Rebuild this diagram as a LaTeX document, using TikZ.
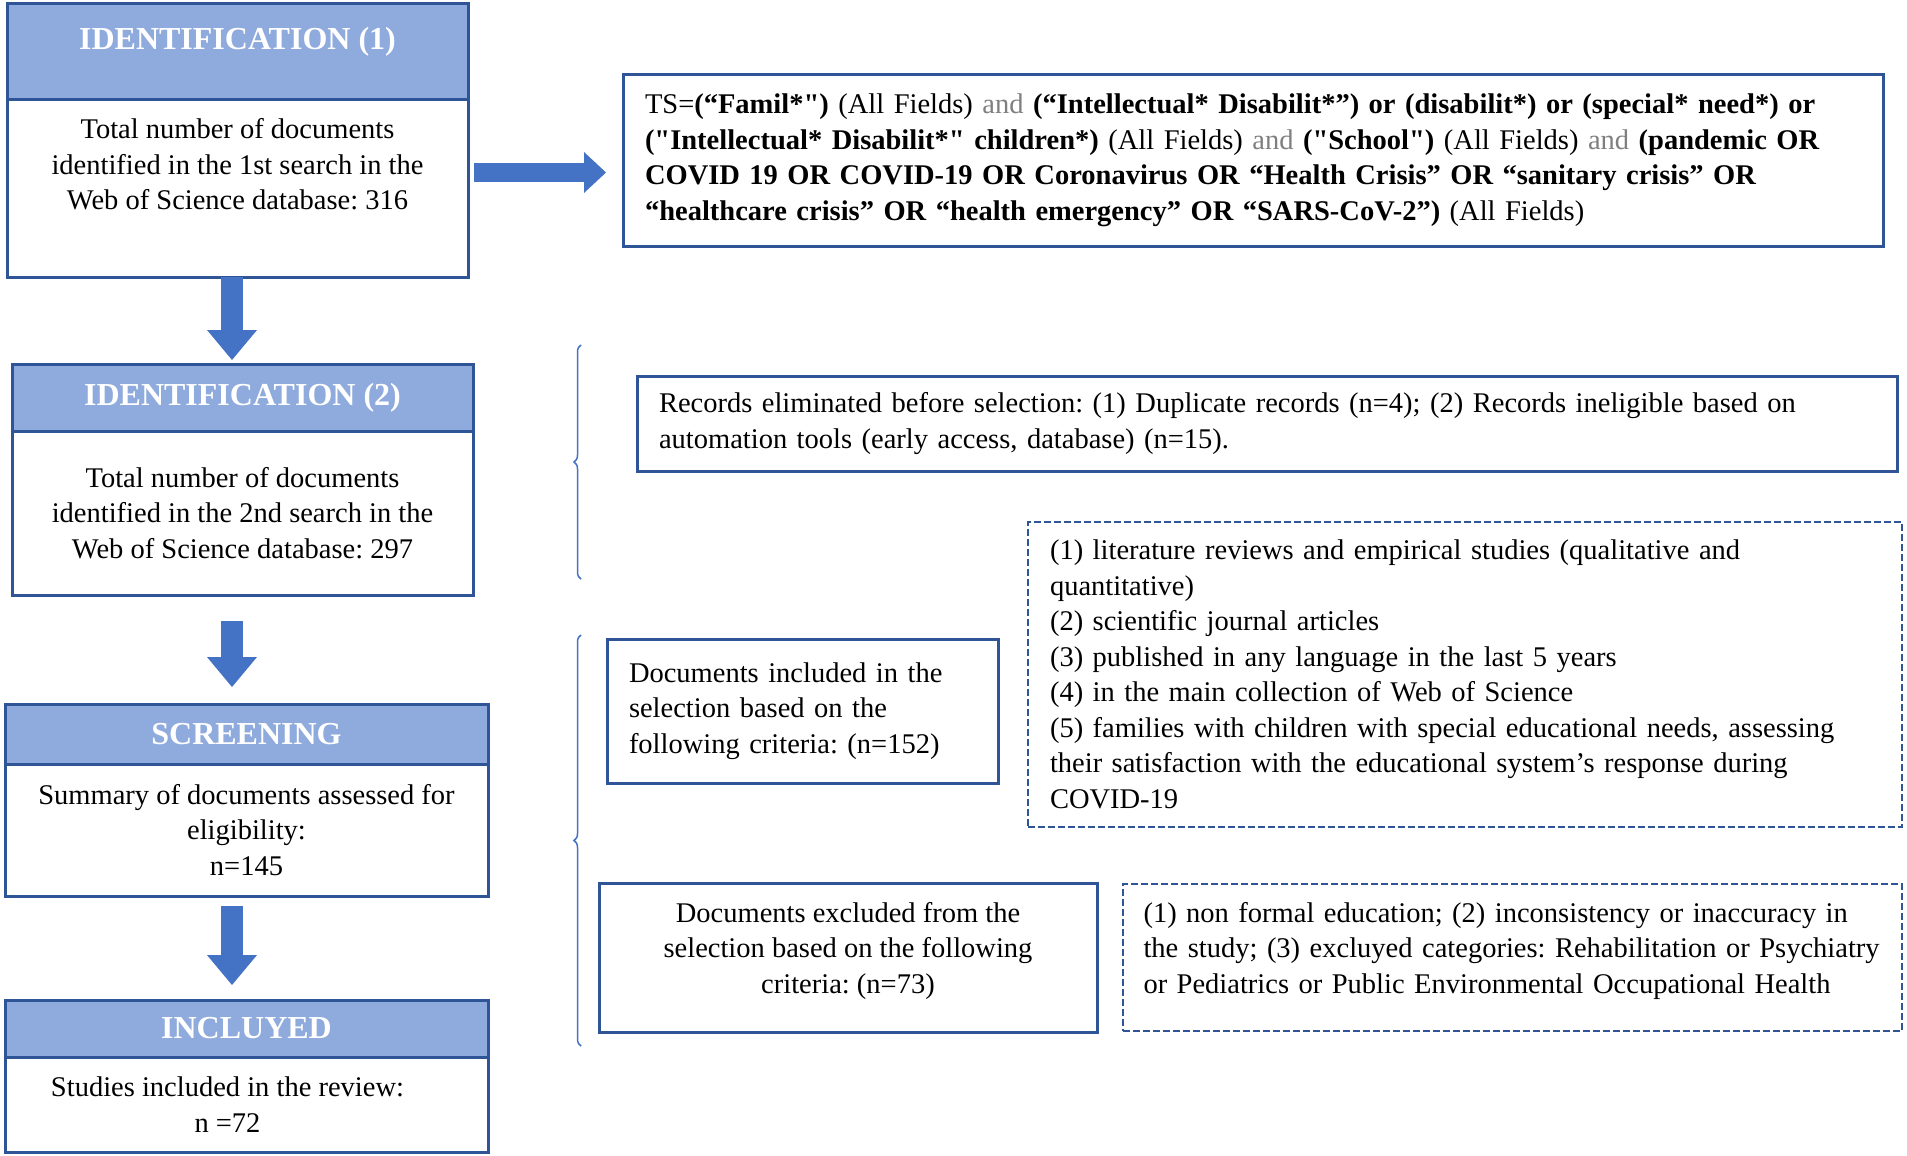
\documentclass[tikz,border=0pt]{standalone}
\usepackage{fontspec}
\setmainfont{Liberation Serif}[Ligatures=TeXOff]
\usepackage{xcolor}
\usetikzlibrary{arrows.meta,decorations.pathreplacing}

\definecolor{boxblue}{HTML}{2F5597}
\definecolor{headblue}{HTML}{8FAADC}
\definecolor{arrowblue}{HTML}{4472C4}
\definecolor{andgray}{HTML}{7F7F7F}

\newcommand{\boxfont}{\fontsize{28.5}{35.5}\selectfont\frenchspacing
  \hyphenpenalty=10000\relax\exhyphenpenalty=10000\relax}

\begin{document}
\begin{tikzpicture}[x=1pt,y=-1pt,
  every node/.style={font=\boxfont, outer sep=0pt},
  head/.style={draw=boxblue, line width=3pt, fill=headblue, text=white,
    font=\fontsize{32}{37}\selectfont\bfseries, align=center, inner sep=0pt},
  body/.style={draw=boxblue, line width=3pt, fill=white, align=center, inner sep=0pt},
  sidebox/.style={draw=boxblue, line width=3pt, align=left, inner xsep=22pt, inner ysep=0pt},
  dashbox/.style={sidebox, line width=2.5pt, dash pattern=on 7pt off 3pt},
  bigarrow/.style={arrowblue, line width=22pt, -{Triangle[length=30pt,width=50pt,line width=0pt]}},
  bracket/.style={arrowblue, line width=1.5pt, decorate, decoration={brace, amplitude=7pt}}]
  \useasboundingbox (0,0) rectangle (1907,1156);

  % left column: the four stages
  \node[head, minimum width=461pt, minimum height=95pt] (id1h) at (237.5,51.5) {IDENTIFICATION (1)\\[-10pt]\mbox{}};
  \node[body, minimum width=461pt, minimum height=178pt] (id1b) at (237.5,188)
    {Total number of documents\\identified in the 1st search in the\\Web of Science database: 316\\[12pt]\mbox{}};
  \node[head, minimum width=461pt, minimum height=67pt] (id2h) at (242.5,397.5) {IDENTIFICATION (2)};
  \node[body, minimum width=461pt, minimum height=164pt] (id2b) at (242.5,513)
    {Total number of documents\\identified in the 2nd search in the\\Web of Science database: 297};
  \node[head, minimum width=483pt, minimum height=60pt] (scrh) at (246.5,734) {SCREENING};
  \node[body, minimum width=483pt, minimum height=132pt] (scrb) at (246.5,830)
    {Summary of documents assessed for\\eligibility:\\n=145};
  \node[head, minimum width=483pt, minimum height=57pt] (inch) at (246.5,1028.5) {INCLUYED};
  \node[body, minimum width=483pt, minimum height=95pt] (incb) at (246.5,1104.5)
    {\hspace*{-38pt}Studies included in the review:\\\hspace*{-38pt}n =72};

  % right side
  \node[sidebox, text width=1216pt, minimum height=171pt] (query) at (1253,160.5)
    {TS=\textbf{(“Famil*")} (All Fields) \textcolor{andgray}{and} \textbf{(“Intellectual* Disabilit*”) or (disabilit*) or (special* need*) or}\\
     \textbf{("Intellectual* Disabilit*" children*)} (All Fields) \textcolor{andgray}{and} \textbf{("School")} (All Fields) \textcolor{andgray}{and} \textbf{(pandemic OR}\\
     \textbf{COVID 19 OR COVID-19 OR Coronavirus OR “Health Crisis” OR “sanitary crisis” OR}\\
     \textbf{“healthcare crisis” OR “health emergency” OR “SARS-CoV-2”)} (All Fields)};
  \node[sidebox, text width=1216pt, minimum height=95pt] (records) at (1267,423.5)
    {Records eliminated before selection: (1) Duplicate records (n=4); (2) Records ineligible based on\\automation tools (early access, database) (n=15).};
  \node[sidebox, text width=347pt, minimum height=144pt] (incl) at (802.5,711)
    {Documents included in the\\selection based on the\\following criteria: (n=152)};
  \node[dashbox, text width=830pt, minimum height=305pt] (crit) at (1465,674.5)
    {(1) literature reviews and empirical studies (qualitative and\\quantitative)\\(2) scientific journal articles\\(3) published in any language in the last 5 years\\(4) in the main collection of Web of Science\\(5) families with children with special educational needs, assessing\\their satisfaction with the educational system’s response during\\COVID-19};
  \node[body, minimum width=498pt, minimum height=149pt] (excl) at (848,957.5)
    {Documents excluded from the\\selection based on the following\\criteria: (n=73)\\[-16pt]\mbox{}};
  \node[dashbox, inner xsep=20.5pt, text width=738pt, minimum height=147pt] (excrit) at (1512.5,957.5)
    {(1) non formal education; (2) inconsistency or inaccuracy in\\the study; (3) excluyed categories: Rehabilitation or Psychiatry\\or Pediatrics or Public Environmental Occupational Health\\[-16pt]\mbox{}};

  % arrows
  \coordinate (col) at (232,0);
  \coordinate (qrow) at (0,172.5);
  \draw[bigarrow, shorten >=4pt] (id1b.south -| col) -- (id2h.north -| col);
  \draw[bigarrow, shorten <=26pt, shorten >=17pt] (id2b.south -| col) -- (scrh.north -| col);
  \draw[bigarrow, shorten <=10pt, shorten >=15pt] (scrb.south -| col) -- (inch.north -| col);
  \draw[bigarrow, line width=19pt, -{Triangle[length=22pt,width=41pt,line width=0pt]}, shorten <=6pt, shorten >=17pt]
    (id1b.east |- qrow) -- (query.west |- qrow);

  % braces
  \draw[bracket] (581,579) -- (581,345);
  \draw[bracket] (581,1046) -- (581,635);
\end{tikzpicture}
\end{document}
